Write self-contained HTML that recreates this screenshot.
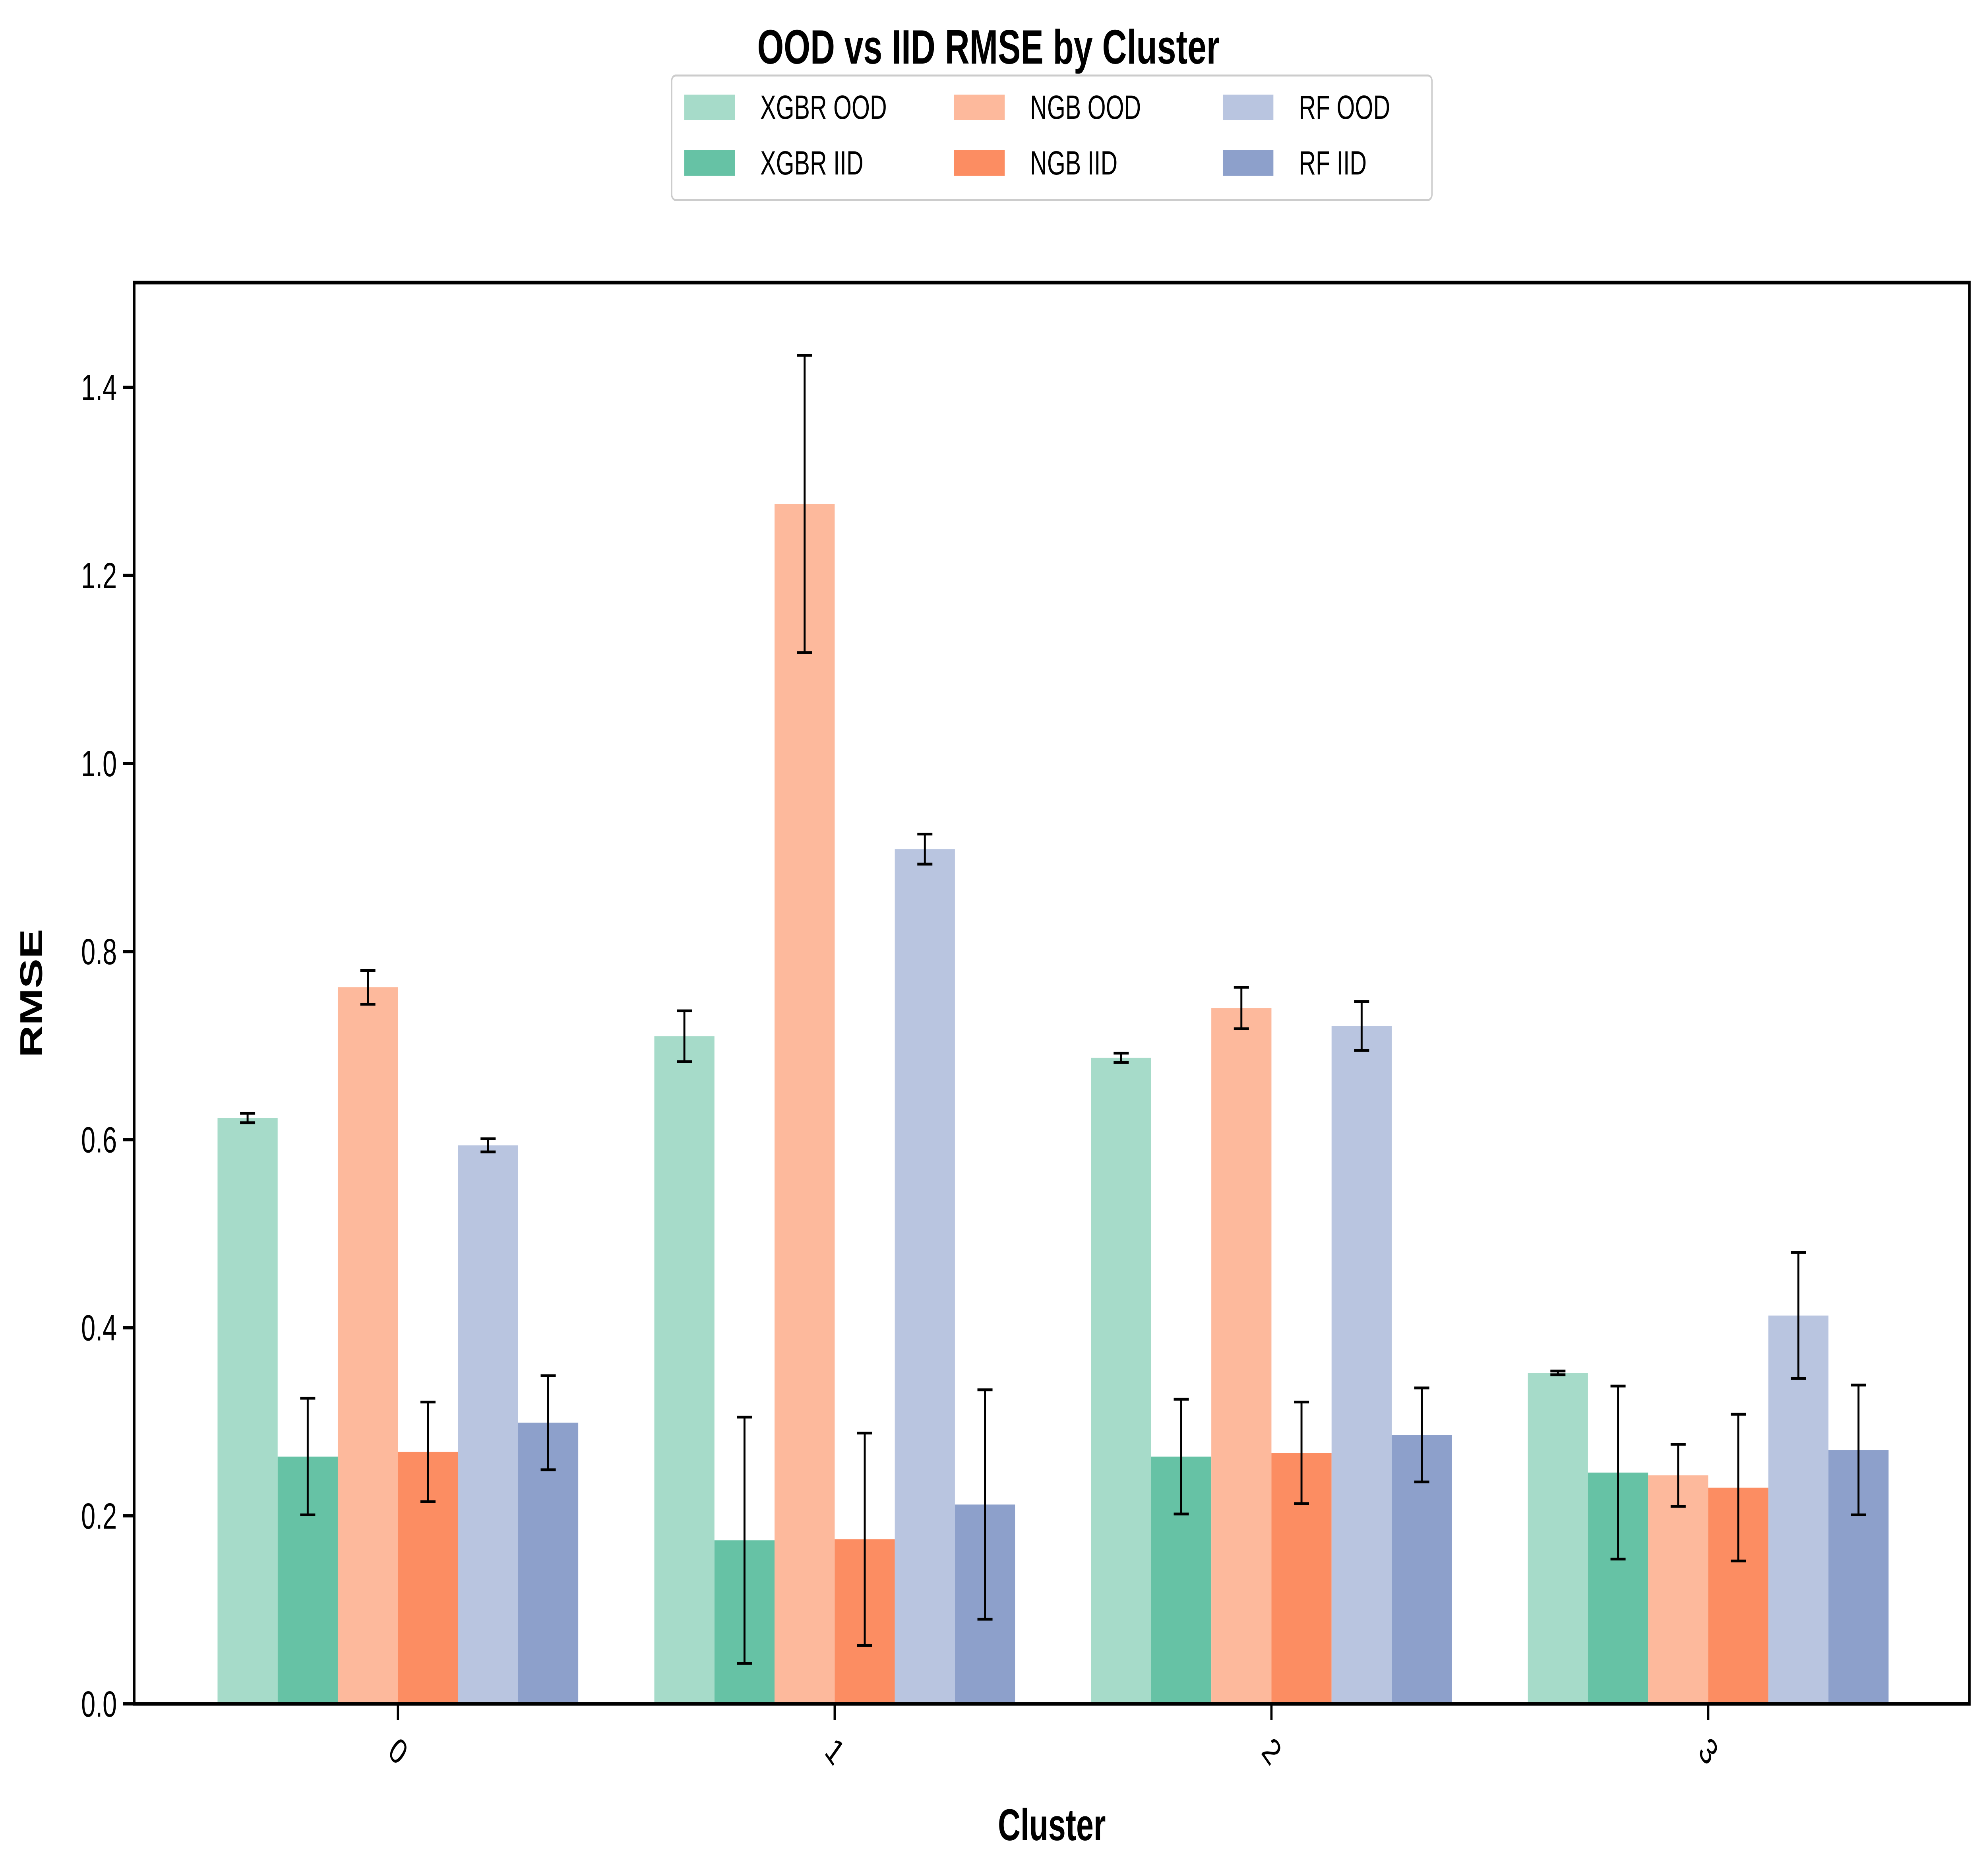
<!DOCTYPE html>
<html><head><meta charset="utf-8">
<style>html,body{margin:0;padding:0;background:#fff;overflow:hidden;width:100%;height:100%}svg{display:block;width:100vw;height:100vh}text{font-family:"Liberation Sans",sans-serif}</style>
</head><body>
<svg id="chart" viewBox="0 0 7106 4720" preserveAspectRatio="none" xmlns="http://www.w3.org/2000/svg">
<rect width="7106" height="4720" fill="#fff"/>
<text x="3535" y="160" font-size="122" font-weight="bold" text-anchor="middle">OOD vs IID RMSE by Cluster</text>
<g id="plot"></g>
<g id="legend"></g>
</svg>
<script>
const categories = ["0","1","2","3"];
const seriesNames = ["XGBR OOD","XGBR IID","NGB OOD","NGB IID","RF OOD","RF IID"];
const xgbrOod = [0.623,0.710,0.687,0.352];
const xgbrIid = [0.263,0.174,0.263,0.246];
const ngbOod = [0.762,1.276,0.740,0.243];
const ngbIid = [0.268,0.175,0.267,0.230];
const rfOod = [0.594,0.909,0.721,0.413];
const rfIid = [0.299,0.212,0.286,0.270];
const xgbrOodErr = [0.005,0.027,0.005,0.002];
const xgbrIidErr = [0.062,0.131,0.061,0.092];
const ngbOodErr = [0.018,0.158,0.022,0.033];
const ngbIidErr = [0.053,0.113,0.054,0.078];
const rfOodErr = [0.007,0.016,0.026,0.067];
const rfIidErr = [0.050,0.122,0.050,0.069];
const yTicks = [0.0,0.2,0.4,0.6,0.8,1.0,1.2,1.4];
const colors = ["#a6dbc9","#66c2a5","#fdb99c","#fc8d62","#b9c5e0","#8da0cb"];

const values = [xgbrOod,xgbrIid,ngbOod,ngbIid,rfOod,rfIid];
const errs = [xgbrOodErr,xgbrIidErr,ngbOodErr,ngbIidErr,rfOodErr,rfIidErr];
const NS="http://www.w3.org/2000/svg";
const L=480,R=7043,T=711,B=4287;
const yDomTop=(B-T)/2366;
function yS(v){return B - v/yDomTop*(B-T);}
const centers0=1423, step=1562;
function xC(i){return centers0+i*step;}
const barW=215;
const plot=document.getElementById('plot');
function mk(tag,attrs,parent){const e=document.createElementNS(NS,tag);for(const k in attrs)e.setAttribute(k,attrs[k]);(parent||plot).appendChild(e);return e;}

values.forEach((arr,s)=>{
  arr.forEach((v,i)=>{
    const x=xC(i)-3*barW+s*barW;
    const r=mk('rect',{x:x,y:yS(v),width:barW,height:B-yS(v),fill:colors[s]});
    
    
  });
});
values.forEach((arr,s)=>{
  arr.forEach((v,i)=>{
    const cx=xC(i)-3*barW+s*barW+barW/2, e=errs[s][i];
    const g=mk('g',{stroke:'#000','stroke-width':7});
    
    
    mk('line',{x1:cx,x2:cx,y1:yS(v-e),y2:yS(v+e)},g);
    mk('line',{x1:cx-27,x2:cx+27,y1:yS(v-e),y2:yS(v-e)},g);
    mk('line',{x1:cx-27,x2:cx+27,y1:yS(v+e),y2:yS(v+e)},g);
  });
});
const fr=mk('rect',{x:L,y:T,width:R-L,height:B-T,fill:'none',stroke:'#000','stroke-width':9});


yTicks.forEach(t=>{
  const y=yS(t);
  mk('line',{x1:L-40,x2:L,y1:y,y2:y,stroke:'#000','stroke-width':8});
  const tx=mk('text',{x:L-62,y:y+32,'font-size':92,'text-anchor':'end'});
  
  
  tx.textContent=t.toFixed(1);
});
categories.forEach((c,i)=>{
  const x=xC(i);
  mk('line',{x1:x,x2:x,y1:B,y2:B+40,stroke:'#000','stroke-width':8});
  const tx=mk('text',{x:x,y:B+150,'font-size':92,'text-anchor':'middle',transform:`rotate(45 ${x} ${B+120})`});
  
  
  tx.textContent=c;
});
const xl=mk('text',{x:(L+R)/2,y:4630,'font-size':112,'font-weight':'bold','text-anchor':'middle'});


xl.textContent='Cluster';
const yl=mk('text',{x:150,y:(T+B)/2,'font-size':112,'font-weight':'bold','text-anchor':'middle',transform:`rotate(-90 150 ${(T+B)/2})`});


yl.textContent='RMSE';
const lg=document.getElementById('legend');


mk('rect',{x:2402,y:190,width:2719,height:313,rx:14,fill:'#fff',stroke:'#ccc','stroke-width':5},lg);
const colX=[2447,3412,4373], rowY=[270,410];
seriesNames.forEach((n,s)=>{
  const col=Math.floor(s/2), row=s%2;
  const g=mk('g',{},lg);
  
  
  mk('rect',{x:colX[col],y:rowY[row]-32,width:181,height:64,fill:colors[s]},g);
  const t=mk('text',{x:colX[col]+272,y:rowY[row]+29,'font-size':84},g);
  t.textContent=n;
});
</script>
</body></html>
